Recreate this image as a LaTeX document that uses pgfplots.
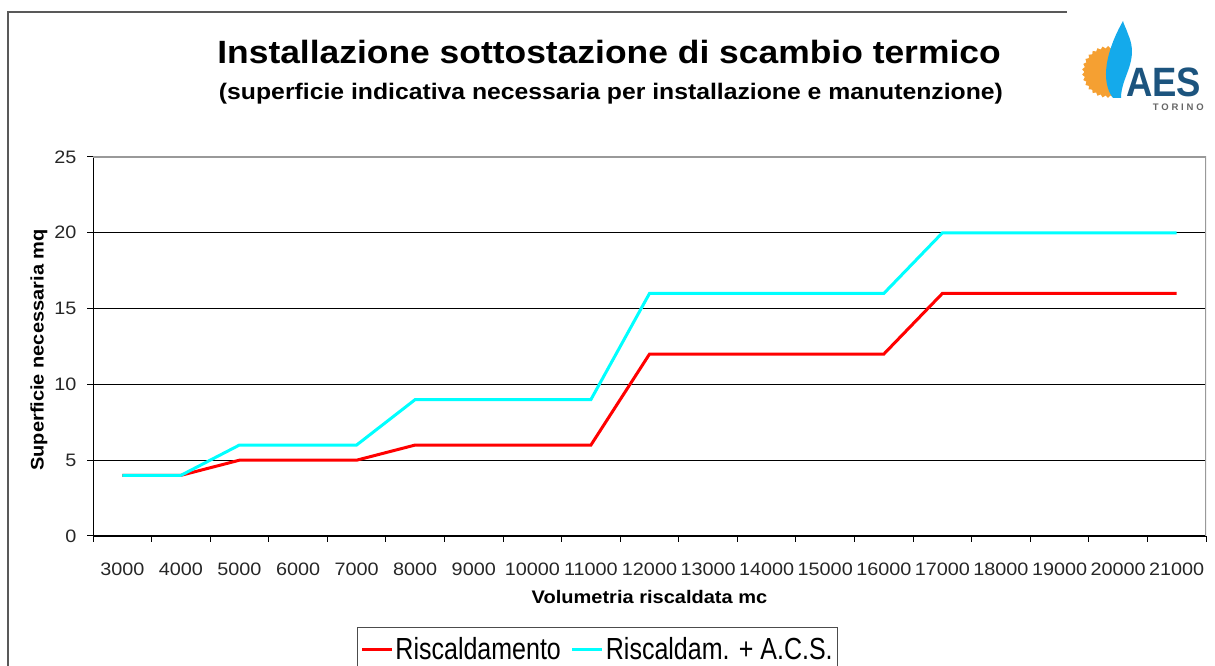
\documentclass[border=0pt]{standalone}
\usepackage{fontspec}
\setmainfont{Liberation Sans}[FakeStretch=1.1]
\newfontfamily\logofont{Liberation Sans}
\newfontfamily\legfont{Liberation Sans}[FakeStretch=0.82]
\usepackage{pgfplots}
\pgfplotsset{compat=1.18}
\usetikzlibrary{shapes.geometric}
\definecolor{aesblue}{RGB}{28,84,126}
\definecolor{aessun}{RGB}{245,160,50}
\definecolor{aesflame}{RGB}{20,170,235}
\definecolor{serred}{RGB}{255,0,0}
\definecolor{sercyan}{RGB}{0,255,255}
\begin{document}
\begin{tikzpicture}[x=1bp,y=1bp]
\useasboundingbox (0,0) rectangle (1215,666);
\draw[line width=1.2bp, black!65] (8,0) -- (8,654) -- (1067,654);
\node[font=\bfseries\fontsize{32.2bp}{36bp}\selectfont, anchor=base, inner sep=0] at (609,602) {Installazione sottostazione di scambio termico};
\node[font=\bfseries\fontsize{22.5bp}{26bp}\selectfont, anchor=base, inner sep=0] at (611,566) {(superficie indicativa necessaria per installazione e manutenzione)};
% logo
\begin{scope}
\clip (1078,550) rectangle (1114,630);
\node[star, star points=30, star point ratio=1.1, fill=aessun, minimum size=52bp, inner sep=0] at (1108,594) {};
\end{scope}
\fill[aesflame] (1123,645) .. controls (1106,615) and (1100,585) .. (1113,568) -- (1121,568) .. controls (1121,590) and (1140,605) .. (1128,632) .. controls (1126,638) and (1124,641) .. cycle;
\node[anchor=base west, inner sep=0, text depth=0pt, text=aesblue, font=\logofont\bfseries\fontsize{41bp}{41bp}\selectfont, xscale=0.89] at (1126,569) {AES};
\node[anchor=base east, inner sep=0, text depth=0pt, text=black!60, font=\logofont\bfseries\fontsize{9.5bp}{10bp}\selectfont\addfontfeatures{LetterSpace=30}] at (1204,555) {TORINO};
\begin{axis}[
  at={(93bp,130bp)}, anchor=south west,
  scale only axis, width=1113bp, height=379bp,
  xmin=-0.5, xmax=18.5, ymin=0, ymax=25,
  axis x line*=bottom, axis y line*=left,
  axis line style={-, black, line width=1bp},
  xtick={0,...,18},
  xticklabels={3000,4000,5000,6000,7000,8000,9000,10000,11000,12000,13000,14000,15000,16000,17000,18000,19000,20000,21000},
  minor xtick={-0.5,0.5,...,18.5},
  major x tick style={draw=none},
  minor x tick style={black, line width=1bp},
  ytick={0,5,...,25},
  major y tick style={black, line width=1bp},
  tick align=outside,
  major tick length=6bp, minor tick length=6bp,
  ymajorgrids, major grid style={black, line width=0.9bp},
  /pgf/number format/assume math mode=true,
  tick label style={font=\fontsize{18bp}{20bp}\selectfont, text=black!85},
  x tick label style={anchor=base, yshift=-34bp},
  y tick label style={anchor=east, xshift=-7bp},
  xlabel={Volumetria riscaldata mc},
  ylabel={Superficie necessaria mq},
  xlabel style={at={(axis description cs:0.5,-0.1768)}, anchor=base, font=\bfseries\fontsize{18.2bp}{20bp}\selectfont, inner sep=0},
  ylabel style={at={(axis description cs:-0.0485,0.4908)}, anchor=center, font=\bfseries\fontsize{18.2bp}{20bp}\selectfont, inner sep=0},
  legend columns=2,
  legend style={at={(axis description cs:0.2372,-0.2401)}, anchor=north west, draw=black!70, line width=1bp, font=\legfont\fontsize{30.5bp}{34bp}\selectfont, inner xsep=3bp, inner ysep=8bp, /tikz/every even column/.append style={column sep=8bp}},
  legend image code/.code={\draw[#1, line width=3bp] (0bp,0bp) -- (30bp,0bp);},
  legend cell align=left,
]
\addplot[serred, line width=3bp, mark=none] coordinates {(0,4)(1,4)(2,5)(3,5)(4,5)(5,6)(6,6)(7,6)(8,6)(9,12)(10,12)(11,12)(12,12)(13,12)(14,16)(15,16)(16,16)(17,16)(18,16)};
\addlegendentry{Riscaldamento}
\addplot[sercyan, line width=3bp, mark=none] coordinates {(0,4)(1,4)(2,6)(3,6)(4,6)(5,9)(6,9)(7,9)(8,9)(9,16)(10,16)(11,16)(12,16)(13,16)(14,20)(15,20)(16,20)(17,20)(18,20)};
\addlegendentry{Riscaldam. + A.C.S.}
\draw[black!40, line width=1.2bp] (rel axis cs:0,1) -- (rel axis cs:1,1) -- (rel axis cs:1,0);
\end{axis}
\end{tikzpicture}
\end{document}
